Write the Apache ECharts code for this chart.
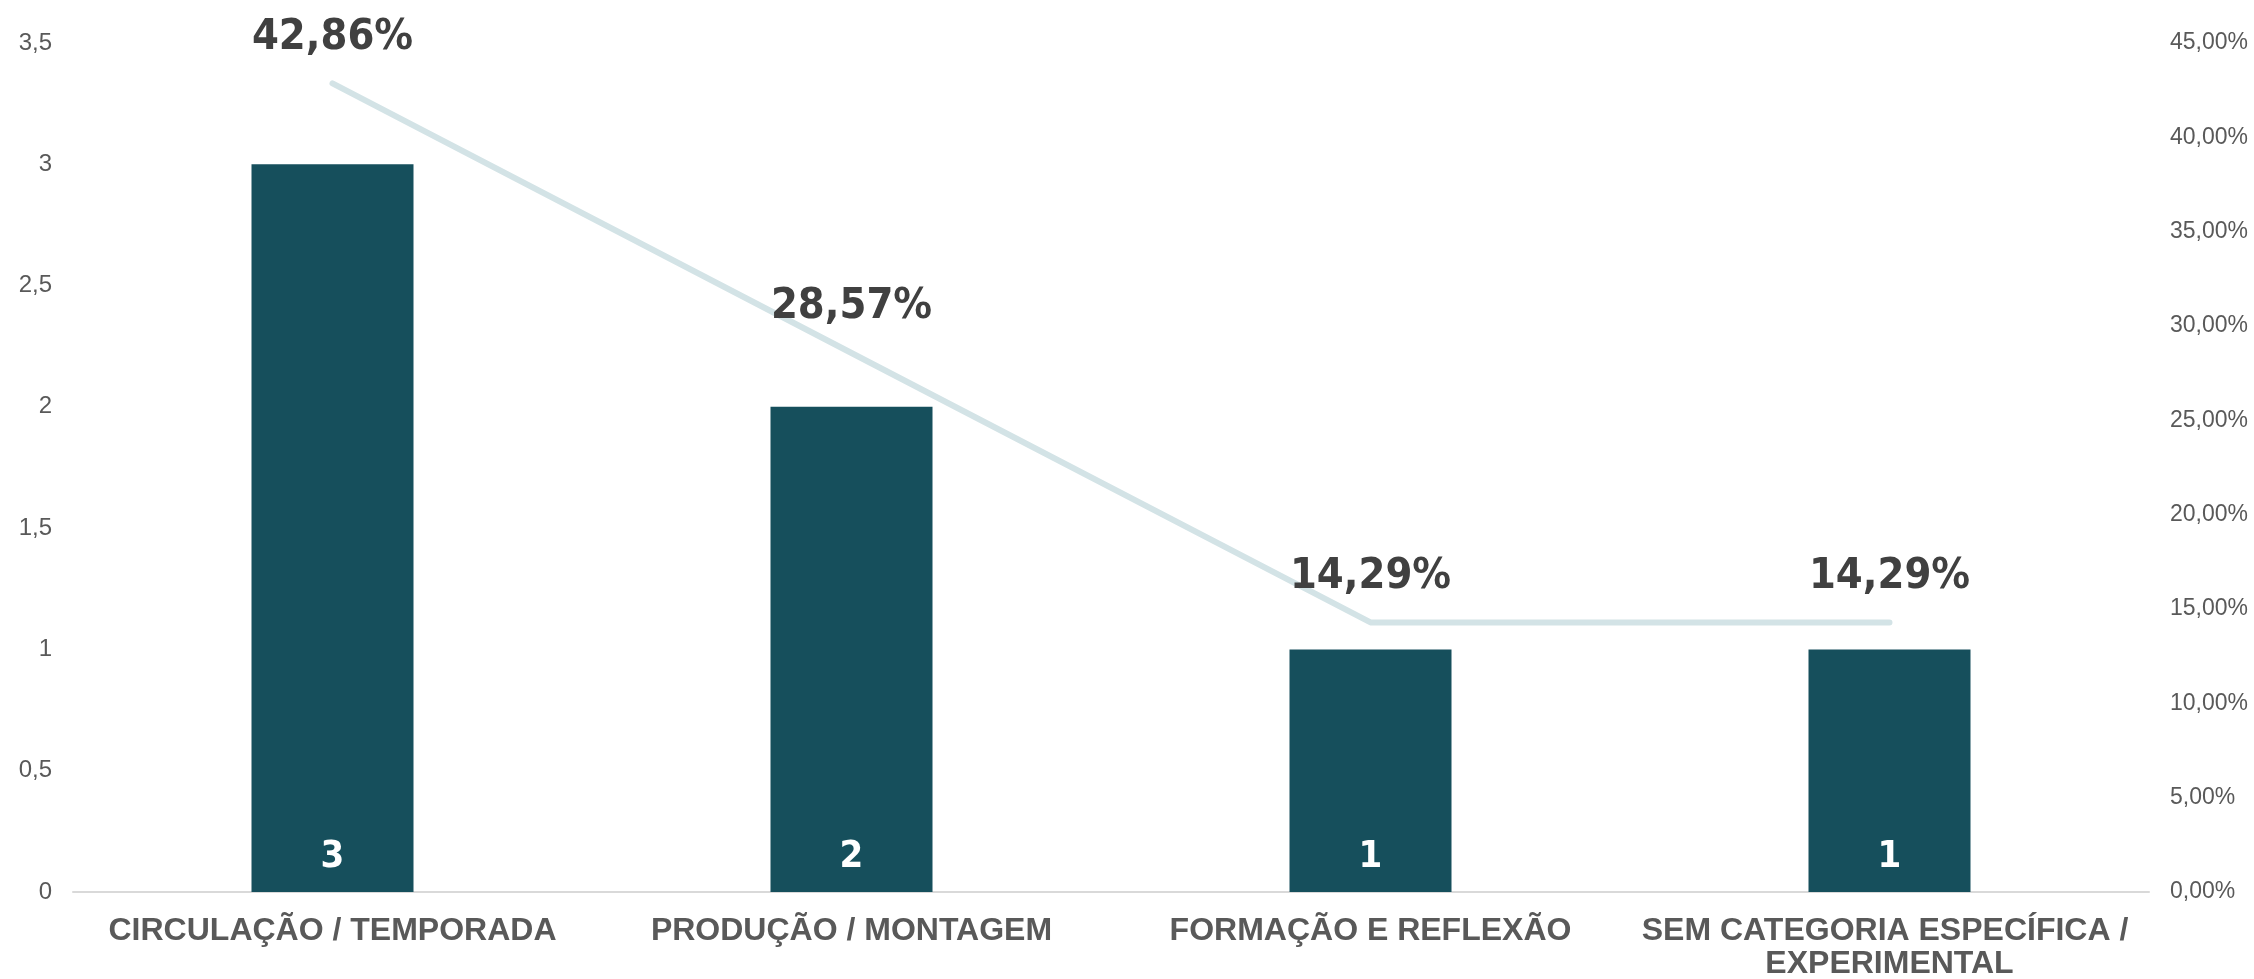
<!DOCTYPE html>
<html>
<head>
<meta charset="utf-8">
<script src="https://cdn.jsdelivr.net/npm/echarts@6/dist/echarts.min.js"></script>
<style>
  html, body { margin: 0; padding: 0; background: #fff; }
  #chart { width: 2254px; height: 979px; }
</style>
</head>
<body>
<div id="chart"></div>
<script>
// categorias e valores
const categories = [
  "CIRCULAÇÃO / TEMPORADA",
  "PRODUÇÃO / MONTAGEM",
  "FORMAÇÃO E REFLEXÃO",
  "SEM CATEGORIA ESPECÍFICA / EXPERIMENTAL"
];
const counts = [3, 2, 1, 1];
const percents = [42.86, 28.57, 14.29, 14.29];

const barColor = "#164f5c";
const lineColor = "#d3e3e6";
const axisText = "#595959";

const chart = echarts.init(document.getElementById("chart"));

const option = {
  animation: false,
  backgroundColor: "#fff",
  grid: { left: 73, right: 105, top: 43, bottom: 87, outerBoundsMode: "none" },
  xAxis: {
    type: "category",
    data: categories,
    axisTick: { show: false },
    axisLine: { lineStyle: { color: "#d9d9d9", width: 2 } },
    axisLabel: {
      color: axisText,
      fontFamily: "Liberation Sans",
      fontWeight: "bold",
      fontSize: 32,
      margin: 23,
      lineHeight: 33,
      width: 540,
      overflow: "break",
      interval: 0
    }
  },
  yAxis: [
    {
      type: "value",
      min: 0,
      max: 3.5,
      interval: 0.5,
      splitLine: { show: false },
      axisLine: { show: false },
      axisLabel: {
        color: axisText,
        fontFamily: "Liberation Sans",
        fontSize: 24,
        margin: 21,
        formatter: (v) => String(v).replace(".", ",")
      }
    },
    {
      type: "value",
      min: 0,
      max: 45,
      interval: 5,
      splitLine: { show: false },
      axisLine: { show: false },
      axisLabel: {
        color: axisText,
        fontFamily: "Liberation Sans",
        fontSize: 23,
        margin: 21,
        formatter: (v) => v.toFixed(2).replace(".", ",") + "%"
      }
    }
  ],
  series: [
    {
      type: "bar",
      data: counts,
      barWidth: 162,
      itemStyle: { color: barColor },
      label: {
        show: true,
        position: "insideBottom",
        distance: 16,
        color: "#fff",
        fontFamily: "DejaVu Sans Condensed",
        fontWeight: "bold",
        fontSize: 38
      }
    },
    {
      type: "line",
      yAxisIndex: 1,
      data: percents,
      symbol: "circle",
      symbolSize: 1,
      itemStyle: { color: lineColor },
      lineStyle: { color: lineColor, width: 6, cap: "round", join: "round" },
      label: {
        show: true,
        position: "top",
        distance: 24,
        color: "#404040",
        fontFamily: "DejaVu Sans Condensed",
        fontWeight: "bold",
        fontSize: 43,
        formatter: (p) => p.value.toFixed(2).replace(".", ",") + "%"
      },
      z: 3
    }
  ]
};

chart.setOption(option);
</script>
</body>
</html>
